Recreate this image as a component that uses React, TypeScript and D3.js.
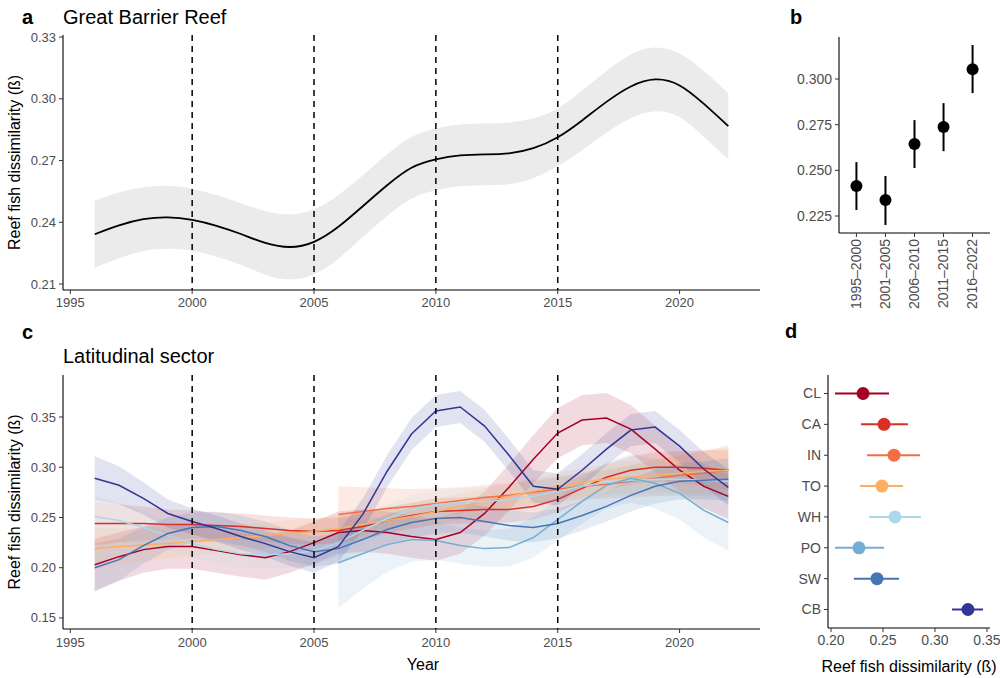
import React from "react";
import * as d3 from "d3";

// ---- panel a: whole GBR smooth ----
const gbrYears = [1996, 1997, 1998, 1999, 2000, 2001, 2002, 2003, 2004, 2005, 2006, 2007, 2008, 2009, 2010, 2011, 2012, 2013, 2014, 2015, 2016, 2017, 2018, 2019, 2020, 2021, 2022];
const gbrFit = [0.2342, 0.2385, 0.2415, 0.2424, 0.2412, 0.2383, 0.2343, 0.23, 0.228, 0.2305, 0.2378, 0.2478, 0.258, 0.2665, 0.2706, 0.2725, 0.273, 0.2735, 0.276, 0.2813, 0.2895, 0.2985, 0.306, 0.3094, 0.3065, 0.2975, 0.2867];
const gbrCI = [0.0163, 0.016, 0.0155, 0.0153, 0.015, 0.015, 0.015, 0.0155, 0.0158, 0.0158, 0.0155, 0.015, 0.015, 0.015, 0.015, 0.015, 0.015, 0.015, 0.0145, 0.014, 0.0145, 0.015, 0.0155, 0.0155, 0.0155, 0.016, 0.016];
const disturbanceYears = [2000, 2005, 2010, 2015];

// ---- panel b: periods ----
const periods = ["1995–2000", "2001–2005", "2006–2010", "2011–2015", "2016–2022"];
const periodMean = [0.2414, 0.2338, 0.2644, 0.2737, 0.3054];
const periodLow = [0.2283, 0.2201, 0.2513, 0.2605, 0.2923];
const periodHigh = [0.2545, 0.2469, 0.2775, 0.2868, 0.3186];

// ---- panel c / d: latitudinal sectors ----
const sectors = ["CL", "CA", "IN", "TO", "WH", "PO", "SW", "CB"];
const sectorColors = ["#a50026", "#d73027", "#f46d43", "#fdae61", "#abd9e9", "#74add1", "#4575b4", "#313695"];
const sectorMean = [0.2308, 0.251, 0.2606, 0.249, 0.2615, 0.2269, 0.2442, 0.3317];
const sectorLow = [0.2038, 0.2288, 0.2346, 0.2279, 0.2365, 0.2038, 0.222, 0.3163];
const sectorHigh = [0.2558, 0.274, 0.2856, 0.2692, 0.2865, 0.251, 0.2654, 0.3462];

const yearsAll = [1996, 1997, 1998, 1999, 2000, 2001, 2002, 2003, 2004, 2005, 2006, 2007, 2008, 2009, 2010, 2011, 2012, 2013, 2014, 2015, 2016, 2017, 2018, 2019, 2020, 2021, 2022];
const yearsLate = [2006, 2007, 2008, 2009, 2010, 2011, 2012, 2013, 2014, 2015, 2016, 2017, 2018, 2019, 2020, 2021, 2022];

const fitCL = [0.203, 0.211, 0.218, 0.221, 0.221, 0.217, 0.213, 0.21, 0.216, 0.225, 0.235, 0.237, 0.235, 0.231, 0.228, 0.235, 0.254, 0.28, 0.308, 0.334, 0.347, 0.349, 0.338, 0.318, 0.297, 0.281, 0.271];
const ciCL = [0.026, 0.024, 0.023, 0.022, 0.022, 0.022, 0.022, 0.022, 0.021, 0.021, 0.021, 0.021, 0.021, 0.021, 0.021, 0.021, 0.022, 0.023, 0.024, 0.025, 0.025, 0.025, 0.024, 0.023, 0.022, 0.022, 0.022];
const fitCA = [0.244, 0.244, 0.244, 0.243, 0.243, 0.242, 0.241, 0.239, 0.237, 0.236, 0.237, 0.241, 0.247, 0.252, 0.256, 0.257, 0.258, 0.258, 0.261, 0.268, 0.279, 0.29, 0.297, 0.3, 0.3, 0.299, 0.297];
const ciCA = [0.022, 0.019, 0.017, 0.015, 0.014, 0.013, 0.013, 0.013, 0.013, 0.013, 0.013, 0.013, 0.013, 0.013, 0.013, 0.013, 0.013, 0.013, 0.013, 0.013, 0.013, 0.013, 0.014, 0.015, 0.016, 0.018, 0.02];
const fitIN = [0.253, 0.256, 0.259, 0.261, 0.264, 0.267, 0.27, 0.272, 0.275, 0.278, 0.281, 0.283, 0.286, 0.289, 0.292, 0.294, 0.297];
const ciIN = [0.028, 0.024, 0.02, 0.017, 0.015, 0.013, 0.012, 0.012, 0.012, 0.012, 0.013, 0.014, 0.016, 0.018, 0.02, 0.022, 0.025];
const fitTO = [0.219, 0.221, 0.2225, 0.224, 0.226, 0.228, 0.23, 0.232, 0.234, 0.236, 0.239, 0.243, 0.247, 0.251, 0.256, 0.261, 0.266, 0.271, 0.276, 0.281, 0.285, 0.288, 0.29, 0.292, 0.294, 0.296, 0.297];
const ciTO = [0.02, 0.018, 0.016, 0.015, 0.014, 0.013, 0.013, 0.013, 0.013, 0.013, 0.013, 0.013, 0.013, 0.013, 0.013, 0.013, 0.013, 0.013, 0.013, 0.013, 0.014, 0.015, 0.016, 0.017, 0.019, 0.021, 0.023];
const fitWH = [0.251, 0.247, 0.24, 0.232, 0.224, 0.218, 0.214, 0.213, 0.214, 0.217, 0.225, 0.237, 0.249, 0.258, 0.263, 0.265, 0.266, 0.268, 0.271, 0.276, 0.281, 0.285, 0.287, 0.288, 0.288, 0.287, 0.286];
const ciWH = [0.02, 0.018, 0.016, 0.015, 0.014, 0.014, 0.014, 0.014, 0.014, 0.014, 0.014, 0.014, 0.014, 0.014, 0.014, 0.014, 0.014, 0.014, 0.014, 0.014, 0.014, 0.014, 0.015, 0.016, 0.017, 0.018, 0.02];
const fitPO = [0.205, 0.214, 0.223, 0.228, 0.227, 0.222, 0.219, 0.22, 0.23, 0.248, 0.266, 0.282, 0.289, 0.284, 0.274, 0.257, 0.245];
const ciPO = [0.045, 0.035, 0.027, 0.022, 0.019, 0.018, 0.018, 0.019, 0.02, 0.021, 0.022, 0.023, 0.024, 0.025, 0.026, 0.027, 0.028];
const fitSW = [0.2, 0.208, 0.222, 0.234, 0.24, 0.241, 0.237, 0.231, 0.222, 0.216, 0.219, 0.228, 0.238, 0.245, 0.249, 0.25, 0.246, 0.242, 0.24, 0.244, 0.252, 0.261, 0.272, 0.281, 0.286, 0.287, 0.288];
const ciSW = [0.024, 0.021, 0.018, 0.016, 0.015, 0.015, 0.015, 0.015, 0.015, 0.015, 0.015, 0.015, 0.015, 0.015, 0.015, 0.015, 0.015, 0.015, 0.015, 0.015, 0.015, 0.015, 0.016, 0.017, 0.018, 0.019, 0.021];
const fitCB = [0.289, 0.282, 0.269, 0.254, 0.246, 0.239, 0.231, 0.224, 0.216, 0.21, 0.221, 0.253, 0.296, 0.333, 0.356, 0.36, 0.341, 0.312, 0.281, 0.278, 0.297, 0.318, 0.337, 0.34, 0.321, 0.298, 0.28];
const ciCB = [0.022, 0.019, 0.016, 0.014, 0.013, 0.013, 0.013, 0.013, 0.014, 0.015, 0.015, 0.016, 0.016, 0.016, 0.016, 0.016, 0.016, 0.016, 0.016, 0.016, 0.016, 0.016, 0.016, 0.016, 0.016, 0.017, 0.018];

const sectorYears = [yearsAll, yearsAll, yearsLate, yearsAll, yearsAll, yearsLate, yearsAll, yearsAll];
const sectorFits = [fitCL, fitCA, fitIN, fitTO, fitWH, fitPO, fitSW, fitCB];
const sectorCIs = [ciCL, ciCA, ciIN, ciTO, ciWH, ciPO, ciSW, ciCB];

const font = "'Liberation Sans', Arial, Helvetica, sans-serif";
const tickGrey = "#4d4d4d";

interface Pt { x: number; y: number; ci: number }

function toPts(years: number[], fit: number[], ci: number[]): Pt[] {
  return years.map((yr, i) => ({ x: yr, y: fit[i], ci: ci[i] }));
}

export default function App() {
  const xA = d3.scaleLinear().domain([1994.7, 2023.3]).range([63, 760]);
  const yA = d3.scaleLinear().domain([0.2071, 0.331]).range([290, 35]);

  const xB = d3.scalePoint<string>().domain(periods).range([839, 990]).padding(0.6);
  const yB = d3.scaleLinear().domain([0.2157, 0.323]).range([233, 37]);

  const xC = d3.scaleLinear().domain([1994.7, 2023.3]).range([63, 760]);
  const yC = d3.scaleLinear().domain([0.139, 0.3918]).range([629, 375]);

  const xD = d3.scaleLinear().domain([0.1971, 0.3529]).range([828, 990]);
  const yD = d3.scalePoint<string>().domain(sectors).range([375, 628]).padding(0.6);

  const gbrPts = toPts(gbrYears, gbrFit, gbrCI);
  const lineA = d3.line<Pt>().x(d => xA(d.x)).y(d => yA(d.y)).curve(d3.curveNatural);
  const areaA = d3.area<Pt>().x(d => xA(d.x)).y0(d => yA(d.y - d.ci)).y1(d => yA(d.y + d.ci)).curve(d3.curveNatural);

  const lineC = d3.line<Pt>().x(d => xC(d.x)).y(d => yC(d.y));
  const areaC = d3.area<Pt>().x(d => xC(d.x)).y0(d => yC(d.y - d.ci)).y1(d => yC(d.y + d.ci));
  const sectorPts = sectors.map((_, i) => toPts(sectorYears[i], sectorFits[i], sectorCIs[i]));

  const yearTicks = [1995, 2000, 2005, 2010, 2015, 2020];

  const textBase = { fontFamily: font };

  return (
    <svg width={1000} height={678} style={{ position: "absolute", left: 0, top: 0, background: "#fff" }}>
      {/* ---------- panel a ---------- */}
      <text x={22} y={24} fontSize={20} fontWeight="bold" style={textBase}>a</text>
      <text x={63} y={24} fontSize={20} style={textBase}>Great Barrier Reef</text>
      <path d={areaA(gbrPts) || ""} fill="#ebebeb" />
      <path d={lineA(gbrPts) || ""} fill="none" stroke="#000" strokeWidth={1.8} />
      {disturbanceYears.map(yr => (
        <line key={"da" + yr} x1={xA(yr)} x2={xA(yr)} y1={35} y2={290} stroke="#000" strokeWidth={1.5} strokeDasharray="6,5" />
      ))}
      <line x1={63} x2={63} y1={35} y2={290} stroke="#000" strokeWidth={1.1} />
      <line x1={63} x2={760} y1={290} y2={290} stroke="#000" strokeWidth={1.1} />
      {[0.21, 0.24, 0.27, 0.3, 0.33].map(v => (
        <g key={"ya" + v}>
          <line x1={59} x2={63} y1={yA(v)} y2={yA(v)} stroke="#333" />
          <text x={56} y={yA(v)} dy="0.35em" textAnchor="end" fontSize={13} fill={tickGrey} style={textBase}>{v.toFixed(2)}</text>
        </g>
      ))}
      {yearTicks.map(yr => (
        <g key={"xa" + yr}>
          <line x1={xA(yr)} x2={xA(yr)} y1={290} y2={294} stroke="#333" />
          <text x={xA(yr)} y={307} textAnchor="middle" fontSize={13} fill={tickGrey} style={textBase}>{yr}</text>
        </g>
      ))}
      <text transform={`translate(20,${(35 + 290) / 2}) rotate(-90)`} textAnchor="middle" fontSize={16} style={textBase}>Reef fish dissimilarity (ß)</text>

      {/* ---------- panel b ---------- */}
      <text x={790} y={24} fontSize={20} fontWeight="bold" style={textBase}>b</text>
      {periods.map((p, i) => (
        <g key={"pb" + p}>
          <line x1={xB(p)!} x2={xB(p)!} y1={yB(periodLow[i])} y2={yB(periodHigh[i])} stroke="#000" strokeWidth={2} />
          <circle cx={xB(p)!} cy={yB(periodMean[i])} r={6} fill="#000" />
        </g>
      ))}
      <line x1={839} x2={839} y1={37} y2={233} stroke="#000" strokeWidth={1.1} />
      <line x1={839} x2={990} y1={233} y2={233} stroke="#000" strokeWidth={1.1} />
      {[0.225, 0.25, 0.275, 0.3].map(v => (
        <g key={"yb" + v}>
          <line x1={835} x2={839} y1={yB(v)} y2={yB(v)} stroke="#333" />
          <text x={832} y={yB(v)} dy="0.35em" textAnchor="end" fontSize={14} fill={tickGrey} style={textBase}>{v.toFixed(3)}</text>
        </g>
      ))}
      {periods.map(p => (
        <g key={"xb" + p}>
          <line x1={xB(p)!} x2={xB(p)!} y1={233} y2={237} stroke="#333" />
          <text transform={`translate(${xB(p)},${239}) rotate(-90)`} dy="0.35em" textAnchor="end" fontSize={14} fill={tickGrey} style={textBase}>{p}</text>
        </g>
      ))}

      {/* ---------- panel c ---------- */}
      <text x={22} y={339} fontSize={20} fontWeight="bold" style={textBase}>c</text>
      <text x={63} y={363} fontSize={20} style={textBase}>Latitudinal sector</text>
      {sectorPts.map((pts, i) => (
        <path key={"rc" + i} d={areaC(pts) || ""} fill={sectorColors[i]} fillOpacity={0.14} />
      ))}
      {sectorPts.map((pts, i) => (
        <path key={"lc" + i} d={lineC(pts) || ""} fill="none" stroke={sectorColors[i]} strokeWidth={1.5} />
      ))}
      {disturbanceYears.map(yr => (
        <line key={"dc" + yr} x1={xC(yr)} x2={xC(yr)} y1={375} y2={629} stroke="#000" strokeWidth={1.5} strokeDasharray="6,5" />
      ))}
      <line x1={63} x2={63} y1={375} y2={629} stroke="#000" strokeWidth={1.1} />
      <line x1={63} x2={760} y1={629} y2={629} stroke="#000" strokeWidth={1.1} />
      {[0.15, 0.2, 0.25, 0.3, 0.35].map(v => (
        <g key={"yc" + v}>
          <line x1={59} x2={63} y1={yC(v)} y2={yC(v)} stroke="#333" />
          <text x={56} y={yC(v)} dy="0.35em" textAnchor="end" fontSize={13} fill={tickGrey} style={textBase}>{v.toFixed(2)}</text>
        </g>
      ))}
      {yearTicks.map(yr => (
        <g key={"xc" + yr}>
          <line x1={xC(yr)} x2={xC(yr)} y1={629} y2={633} stroke="#333" />
          <text x={xC(yr)} y={647} textAnchor="middle" fontSize={13} fill={tickGrey} style={textBase}>{yr}</text>
        </g>
      ))}
      <text x={423} y={670} textAnchor="middle" fontSize={16} style={textBase}>Year</text>
      <text transform={`translate(20,${(375 + 629) / 2}) rotate(-90)`} textAnchor="middle" fontSize={16} style={textBase}>Reef fish dissimilarity (ß)</text>

      {/* ---------- panel d ---------- */}
      <text x={785} y={338} fontSize={20} fontWeight="bold" style={textBase}>d</text>
      {sectors.map((s, i) => (
        <g key={"pd" + s}>
          <line x1={xD(sectorLow[i])} x2={xD(sectorHigh[i])} y1={yD(s)!} y2={yD(s)!} stroke={sectorColors[i]} strokeWidth={2} />
          <circle cx={xD(sectorMean[i])} cy={yD(s)!} r={6.5} fill={sectorColors[i]} />
        </g>
      ))}
      <line x1={828} x2={828} y1={375} y2={628} stroke="#000" strokeWidth={1.1} />
      <line x1={828} x2={990} y1={628} y2={628} stroke="#000" strokeWidth={1.1} />
      {sectors.map(s => (
        <g key={"yd" + s}>
          <line x1={824} x2={828} y1={yD(s)!} y2={yD(s)!} stroke="#333" />
          <text x={821} y={yD(s)!} dy="0.35em" textAnchor="end" fontSize={14} fill={tickGrey} style={textBase}>{s}</text>
        </g>
      ))}
      {[0.2, 0.25, 0.3, 0.35].map(v => (
        <g key={"xd" + v}>
          <line x1={xD(v)} x2={xD(v)} y1={628} y2={632} stroke="#333" />
          <text x={xD(v)} y={645} textAnchor="middle" fontSize={14} fill={tickGrey} style={textBase}>{v.toFixed(2)}</text>
        </g>
      ))}
      <text x={909} y={672} textAnchor="middle" fontSize={16} style={textBase}>Reef fish dissimilarity (ß)</text>
    </svg>
  );
}
